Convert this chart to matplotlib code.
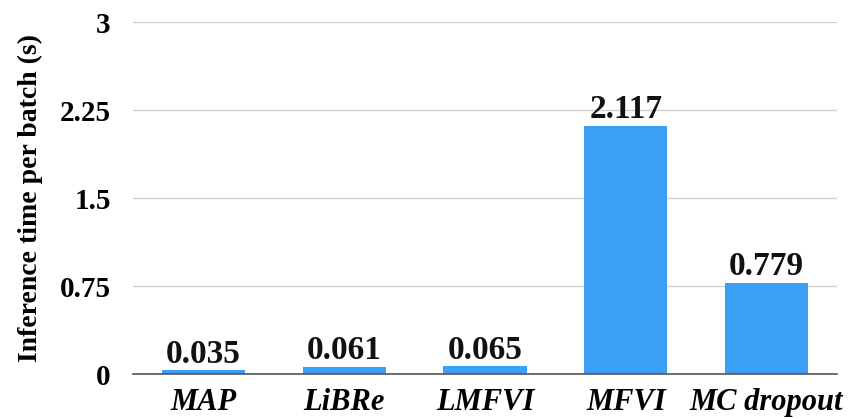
import matplotlib
matplotlib.use("Agg")
import matplotlib.pyplot as plt

methods = ["MAP", "LiBRe", "LMFVI", "MFVI", "MC dropout"]
times = [0.035, 0.061, 0.065, 2.117, 0.779]
yticks = [0, 0.75, 1.5, 2.25, 3]
ytick_labels = ["0", "0.75", "1.5", "2.25", "3"]

plt.rcParams["font.family"] = ["Liberation Serif", "DejaVu Serif"]

fig = plt.figure(figsize=(8.49, 4.19), dpi=100)
ax = fig.add_axes([133 / 849, 45 / 419, 704 / 849, 352 / 419])

x = list(range(len(methods)))
ax.bar(x, times, width=0.59, color="#3b9ff6", zorder=3)
for xi, v in zip(x, times):
    ax.text(xi, v + 0.003, f"{v:.3f}", ha="center", va="bottom",
            fontsize=24, fontweight="bold", color="#111111")

ax.set_xlim(-0.5, len(methods) - 0.5)
ax.set_ylim(0, 3)
ax.set_yticks(yticks)
ax.set_yticklabels(ytick_labels, fontsize=21, fontweight="bold")
ax.set_xticks(x)
ax.set_xticklabels(methods, fontsize=22, fontweight="bold", style="italic")
ax.tick_params(axis="both", length=0)
ax.tick_params(axis="y", pad=16)
ax.tick_params(axis="x", pad=10)
ax.yaxis.grid(True, color="#d0d0d0", linewidth=1.0, zorder=0)
for side in ["top", "right", "left"]:
    ax.spines[side].set_visible(False)
ax.spines["bottom"].set_color("#555555")
ax.spines["bottom"].set_linewidth(1.2)
ax.spines["bottom"].set_zorder(4)
ax.set_ylabel("Inference time per batch (s)", fontsize=20, fontweight="bold",
              labelpad=12)

fig.savefig("out.png", dpi=100)
